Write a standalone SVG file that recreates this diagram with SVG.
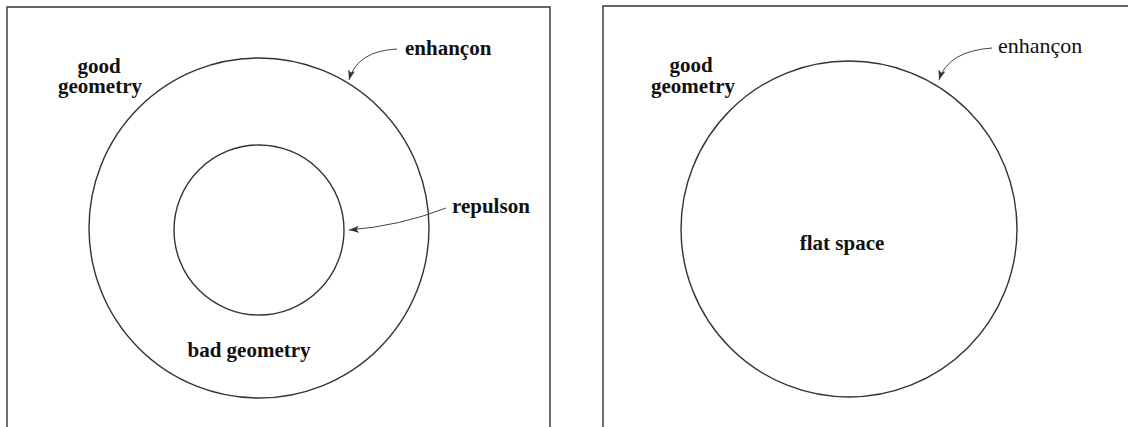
<svg xmlns="http://www.w3.org/2000/svg" width="1128" height="427" viewBox="0 0 1128 427">
<defs>
<marker id="ah" markerUnits="userSpaceOnUse" markerWidth="11" markerHeight="8" refX="10" refY="4" orient="auto">
<path d="M0,0.5 L10,4 L0,7.5 L2.5,4 z" fill="#333"/>
</marker>
<style>
.frame{fill:none;stroke:#333;stroke-width:1.4}
.ring{fill:none;stroke:#333;stroke-width:1.4}
.conn{fill:none;stroke:#444;stroke-width:1}
.lbl{font-family:"Liberation Serif","Times New Roman",serif;font-size:21px;font-weight:bold;fill:#111}
.lbl2{font-family:"Liberation Serif","Times New Roman",serif;font-size:22px;fill:#111}
</style>
</defs>
<rect width="1128" height="427" fill="#fff"/>
<g id="frames">
<path class="frame" d="M7,427 V7 H550 V427"/>
<path class="frame" d="M603,427 V6 H1128"/>
</g>
<g id="left-outer-circle"><circle class="ring" cx="259" cy="228" r="170"/></g>
<g id="left-inner-circle"><circle class="ring" cx="259" cy="230" r="85"/></g>
<g id="right-circle"><circle class="ring" cx="849" cy="229" r="168"/></g>
<g id="connectors">
<path class="conn" d="M397,49 Q357,51 349,80" marker-end="url(#ah)"/>
<path class="conn" d="M446,208 Q400,226 349,230" marker-end="url(#ah)"/>
<path class="conn" d="M992,48 Q948,51 939,80" marker-end="url(#ah)"/>
</g>
<g id="left-labels">
<text class="lbl" x="99" y="73" text-anchor="middle">good</text>
<text class="lbl" x="100" y="93" text-anchor="middle">geometry</text>
<text class="lbl" x="405" y="55">enhançon</text>
<text class="lbl" x="452" y="213">repulson</text>
<text class="lbl" x="249" y="357" text-anchor="middle">bad geometry</text>
</g>
<g id="right-labels">
<text class="lbl" x="691" y="72" text-anchor="middle">good</text>
<text class="lbl" x="693" y="93" text-anchor="middle">geometry</text>
<text class="lbl2" x="998" y="53">enhançon</text>
<text class="lbl" x="842" y="250" text-anchor="middle">flat space</text>
</g>
</svg>
